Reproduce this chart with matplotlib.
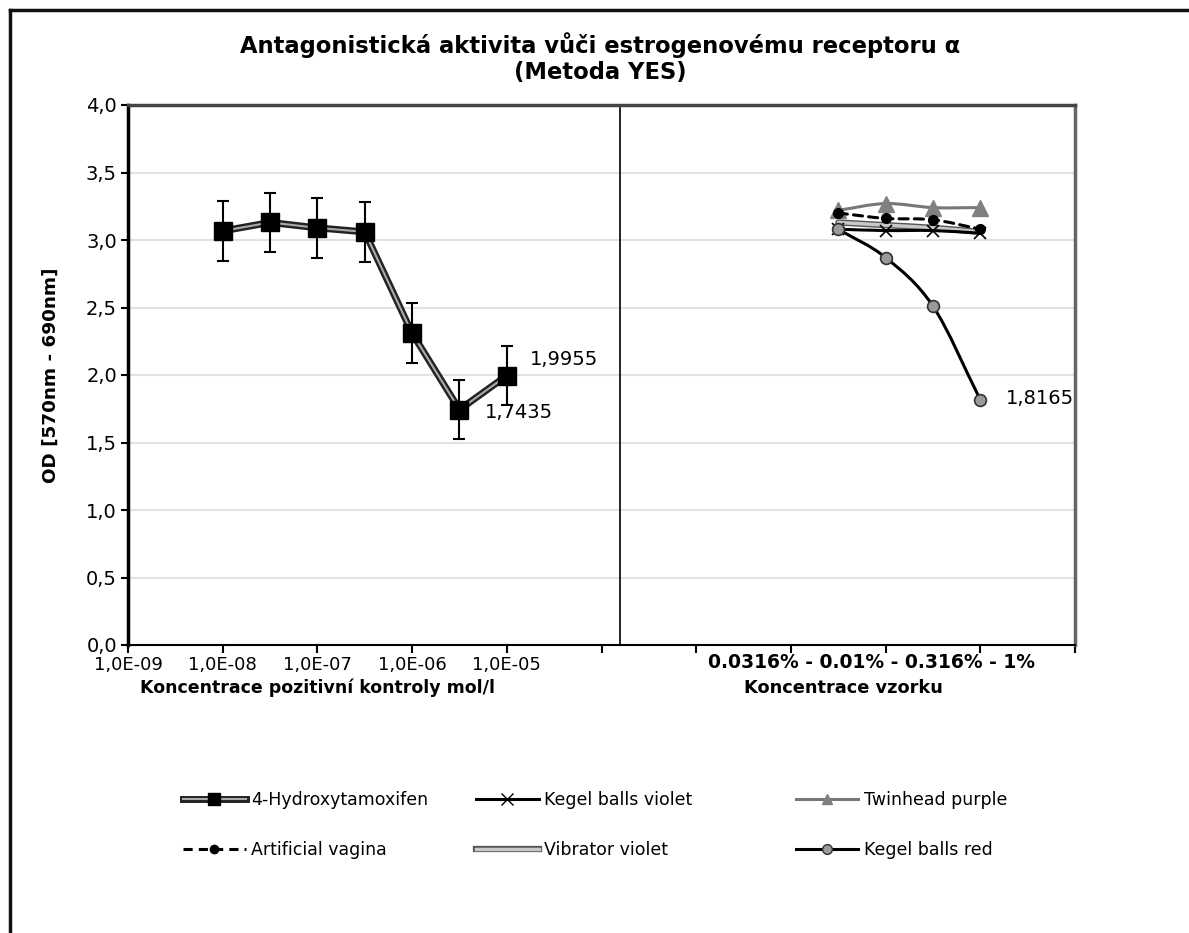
import matplotlib
matplotlib.use("Agg")
import matplotlib.pyplot as plt
from matplotlib.lines import Line2D
from matplotlib.path import Path
from matplotlib.patches import PathPatch
import numpy as np

plt.rcParams['font.family'] = ['DejaVu Sans']

# positive control: log10 of concentration (mol/l) and OD
ht_logc = [-8.0, -7.5, -7.0, -6.5, -6.0, -5.5, -5.0]
ht_od = [3.067, 3.13, 3.09, 3.06, 2.31, 1.7435, 1.9955]
ht_err = [0.22, 0.22, 0.22, 0.22, 0.22, 0.22, 0.22]

# samples, four dilutions each
sample_conc = ["0.0316%", "0.01%", "0.316%", "1%"]
kegel_violet = [3.08, 3.07, 3.07, 3.05]
twinhead_purple = [3.22, 3.27, 3.24, 3.24]
artificial_vagina = [3.20, 3.16, 3.15, 3.08]
vibrator_violet = [3.13, 3.11, 3.09, 3.06]
kegel_red = [3.08, 2.87, 2.51, 1.8165]

left_ticks = ["1,0E-09", "1,0E-08", "1,0E-07", "1,0E-06", "1,0E-05"]


def smooth_path(x, y, k=6.0):
    """Bezier path through the points (smoothed line)"""
    p = np.column_stack([x, y]).astype(float)
    pts = np.vstack([2 * p[0] - p[1], p, 2 * p[-1] - p[-2]])
    verts = [p[0]]
    codes = [Path.MOVETO]
    for i in range(1, len(pts) - 2):
        c1 = pts[i] + (pts[i + 1] - pts[i - 1]) / k
        c2 = pts[i + 1] - (pts[i + 2] - pts[i]) / k
        verts += [c1, c2, pts[i + 1]]
        codes += [Path.CURVE4] * 3
    return Path(verts, codes)


def draw_line(ax, x, y, color, lw, ls="-", z=2):
    patch = PathPatch(smooth_path(x, y), fill=False, edgecolor=color,
                      lw=lw, linestyle=ls, zorder=z, capstyle="round")
    ax.add_patch(patch)


fig = plt.figure(figsize=(11.89, 9.33), dpi=100)
ax = fig.add_axes([128 / 1189, 1 - 645 / 933, 947 / 1189, 540 / 933])

ax.set_xlim(0, 10)
ax.set_ylim(0, 4)

# grid
for g in np.arange(0.5, 4.0, 0.5):
    ax.axhline(g, color="#e2e2e2", lw=1.5, zorder=0)

# divider between the two parts
ax.axvline(5.2, color="black", lw=1.2, zorder=1)

# positive control (double line, black squares, error bars)
xh = np.array(ht_logc) + 9
ax.plot(xh, ht_od, color="#222222", lw=5.0, solid_joinstyle="round", zorder=3)
ax.plot(xh, ht_od, color="#aaaaaa", lw=1.5, solid_joinstyle="round", zorder=3)
ax.errorbar(xh, ht_od, yerr=ht_err, fmt="none", ecolor="black",
            elinewidth=1.5, capsize=4.5, capthick=1.5, zorder=4)
ax.plot(xh, ht_od, "s", color="black", ms=13, zorder=5)

# samples
xs = 7.5 + 0.5 * np.arange(len(sample_conc))
draw_line(ax, xs, vibrator_violet, "#555555", 4.5, z=2)
draw_line(ax, xs, vibrator_violet, "#c8c8c8", 2.5, z=2)
draw_line(ax, xs, twinhead_purple, "#777777", 2.2, z=2)
ax.plot(xs, twinhead_purple, "^", color="#808080", ms=11, zorder=3)
draw_line(ax, xs, kegel_violet, "black", 2.2, z=2)
ax.plot(xs, kegel_violet, "x", color="black", ms=9, mew=1.2, zorder=3)
draw_line(ax, xs, artificial_vagina, "black", 2.2, ls=(0, (3, 2)), z=3)
ax.plot(xs, artificial_vagina, "o", color="black", ms=7, zorder=4)
draw_line(ax, xs, kegel_red, "black", 2.2, z=4)
ax.plot(xs, kegel_red, "o", mfc="#9a9a9a", mec="#333333", mew=1.2,
        ms=8.5, zorder=5)

# value labels
ax.text(xh[-1] + 0.24, ht_od[-1] + 0.12, "1,9955", fontsize=14,
        va="center", ha="left")
ax.text(xh[-2] + 0.27, ht_od[-2] - 0.02, "1,7435", fontsize=14,
        va="center", ha="left")
ax.text(xs[-1] + 0.27, kegel_red[-1] + 0.01, "1,8165", fontsize=14,
        va="center", ha="left")

# axes
ax.set_xticks(range(11))
ax.set_xticklabels(left_ticks + [""] * 6, fontsize=13)
yt = np.arange(0, 4.01, 0.5)
ax.set_yticks(yt)
ax.set_yticklabels([("%.1f" % v).replace(".", ",") for v in yt], fontsize=14)
ax.tick_params(axis="x", direction="out", length=6, width=1.5, pad=2)
ax.tick_params(axis="y", direction="out", length=5, width=1.5, pad=3)
ax.spines["left"].set_linewidth(2.5)
ax.spines["bottom"].set_linewidth(1.5)
ax.spines["top"].set_linewidth(2.5)
ax.spines["top"].set_color("#444444")
ax.spines["right"].set_linewidth(2.5)
ax.spines["right"].set_color("#666666")

ax.text(7.85, -0.13, " - ".join(sample_conc), fontsize=13.5, fontweight="bold",
        ha="center", va="center", clip_on=False)
ax.text(2.0, -0.32, "Koncentrace pozitivní kontroly mol/l", fontsize=12.5,
        fontweight="bold", ha="center", va="center", clip_on=False)
ax.text(7.55, -0.32, "Koncentrace vzorku", fontsize=12.8,
        fontweight="bold", ha="center", va="center", clip_on=False)
ax.set_ylabel("OD [570nm - 690nm]", fontsize=13.2, fontweight="bold", labelpad=19)

fig.text(0.505, 1 - 45 / 933, "Antagonistická aktivita vůči estrogenovému receptoru α",
         fontsize=16.3, fontweight="bold", ha="center", va="center")
fig.text(0.505, 1 - 73 / 933, "(Metoda YES)",
         fontsize=16.3, fontweight="bold", ha="center", va="center")

# legend, one block per column
h_ht = (Line2D([], [], color="#222222", lw=5),
        Line2D([], [], color="#aaaaaa", lw=1.5, marker="s", mfc="black",
               mec="black", ms=8))
h_kv = Line2D([], [], color="black", lw=2.2, marker="x", ms=8, mew=1)
h_tp = Line2D([], [], color="#777777", lw=2.2, marker="^", ms=7,
              mfc="#808080", mec="#808080")
h_av = Line2D([], [], color="black", lw=2.2, ls=(0, (3, 2)), marker="o", ms=6)
h_vv = (Line2D([], [], color="#555555", lw=4.5),
        Line2D([], [], color="#c8c8c8", lw=2.5))
h_kr = Line2D([], [], color="black", lw=2.2, marker="o", ms=7,
              mfc="#9a9a9a", mec="#333333")
columns = [([h_ht, h_av], ["4-Hydroxytamoxifen", "Artificial vagina"], 183),
           ([h_kv, h_vv], ["Kegel balls violet", "Vibrator violet"], 476),
           ([h_tp, h_kr], ["Twinhead purple", "Kegel balls red"], 796)]
for hs, labs, x0 in columns:
    fig.legend(hs, labs, loc="center left",
               bbox_to_anchor=(x0 / 1189, 1 - 825 / 933),
               frameon=False, fontsize=12.5, handlelength=3.6,
               handletextpad=0.3, labelspacing=1.8,
               borderpad=0, borderaxespad=0)

# outer frame (top and left edge)
fig.add_artist(Line2D([10 / 1189, 10 / 1189], [0, 1 - 10 / 933], color="#111111",
                      lw=2.5, transform=fig.transFigure))
fig.add_artist(Line2D([10 / 1189, 1], [1 - 10 / 933, 1 - 10 / 933], color="#111111",
                      lw=2.5, transform=fig.transFigure))

fig.savefig("out.png", dpi=100)
